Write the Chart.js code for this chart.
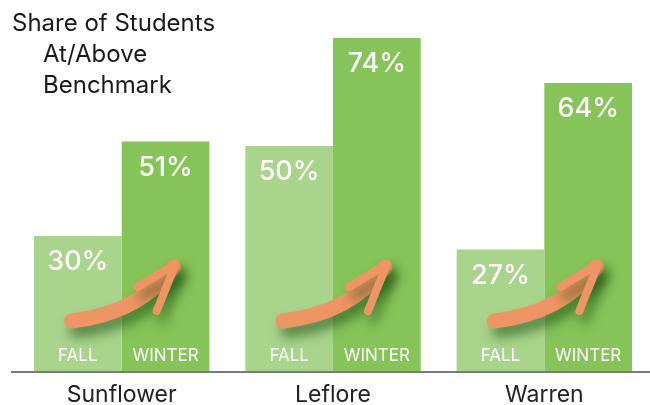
<!DOCTYPE html>
<html>
<head>
<meta charset="utf-8">
<script src="https://cdn.jsdelivr.net/npm/chart.js@4"></script>
<style>
  html, body { margin: 0; padding: 0; background: #fff; }
  #wrap { width: 650px; height: 405px; position: relative; }
</style>
</head>
<body>
<div id="wrap"><canvas id="chart"></canvas></div>
<script>
// ─── Data ─────────────────────────────────────────────────────
const counties   = ['Sunflower', 'Leflore', 'Warren'];
const fallShare  = [30, 50, 27];
const winterShare = [51, 74, 64];
const seasonNames = ['FALL', 'WINTER'];
const titleLines = ['Share of Students', 'At/Above', 'Benchmark'];

const FALL_COLOR   = '#a8d48c';
const WINTER_COLOR = '#86c459';
const ARROW_COLOR  = '#ef9565';

// ─── Plugin: title, labels, arrows, baseline ──────────────────
const decorPlugin = {
  id: 'decor',
  afterDatasetsDraw(chart) {
    const { ctx, chartArea, scales } = chart;
    const bottom = chartArea.bottom;

    // bar value labels + season labels
    chart.data.datasets.forEach((ds, di) => {
      const meta = chart.getDatasetMeta(di);
      meta.data.forEach((bar, i) => {
        ctx.save();
        ctx.fillStyle = '#fff';
        ctx.textAlign = 'center';
        ctx.textBaseline = 'middle';
        ctx.font = '500 27px Inter, "Liberation Sans", sans-serif';
        ctx.fillText(ds.data[i] + '%', bar.x, bar.y + 26);
        ctx.font = '17px Inter, "Liberation Sans", sans-serif';
        ctx.fillText(seasonNames[di], bar.x, bottom - 15);
        ctx.restore();
      });
    });

    // orange arrows fall -> winter
    counties.forEach((c, i) => {
      const cx = scales.x.getPixelForValue(i);
      ctx.save();
      ctx.strokeStyle = ARROW_COLOR;
      ctx.lineCap = 'round';
      ctx.lineJoin = 'round';
      ctx.shadowColor = 'rgba(20,70,10,0.55)';
      ctx.shadowBlur = 12;
      ctx.shadowOffsetX = 5;
      ctx.shadowOffsetY = 9;
      // shaft
      ctx.lineWidth = 15;
      ctx.beginPath();
      ctx.moveTo(cx - 50, bottom - 50);
      ctx.quadraticCurveTo(cx + 18, bottom - 58, cx + 52, bottom - 104);
      ctx.stroke();
      // head
      ctx.lineWidth = 8;
      ctx.beginPath();
      ctx.moveTo(cx + 16, bottom - 84);
      ctx.lineTo(cx + 54, bottom - 107);
      ctx.lineTo(cx + 35, bottom - 60);
      ctx.stroke();
      ctx.restore();
    });

    // baseline
    ctx.save();
    ctx.strokeStyle = '#7a7a7a';
    ctx.lineWidth = 2;
    ctx.beginPath();
    ctx.moveTo(11, bottom + 1);
    ctx.lineTo(chart.width, bottom + 1);
    ctx.stroke();
    ctx.restore();

    // title
    ctx.save();
    ctx.fillStyle = '#1a1a1a';
    ctx.textBaseline = 'alphabetic';
    ctx.font = '24px Inter, "Liberation Sans", sans-serif';
    ctx.fillText(titleLines[0], 12, 31);
    ctx.fillText(titleLines[1], 43, 62);
    ctx.fillText(titleLines[2], 43, 93);
    ctx.restore();
  }
};

new Chart(document.getElementById('chart'), {
  type: 'bar',
  data: {
    labels: counties,
    datasets: [
      { label: 'Fall',   data: fallShare,   backgroundColor: FALL_COLOR },
      { label: 'Winter', data: winterShare, backgroundColor: WINTER_COLOR },
    ],
  },
  options: {
    responsive: true,
    maintainAspectRatio: false,
    animation: false,
    layout: { padding: { top: 11, left: 16, right: 0, bottom: 0 } },
    datasets: { bar: { categoryPercentage: 0.83, barPercentage: 1.0 } },
    plugins: { legend: { display: false }, tooltip: { enabled: false } },
    scales: {
      x: {
        grid: { display: false, drawTicks: false },
        border: { display: false },
        afterFit: scale => { scale.height = 34; },
        ticks: {
          padding: 10,
          color: '#222',
          font: { family: 'Inter', size: 23 },
        },
      },
      y: { display: false, min: 0, max: 80 },
    },
  },
  plugins: [decorPlugin],
});
</script>
</body>
</html>
